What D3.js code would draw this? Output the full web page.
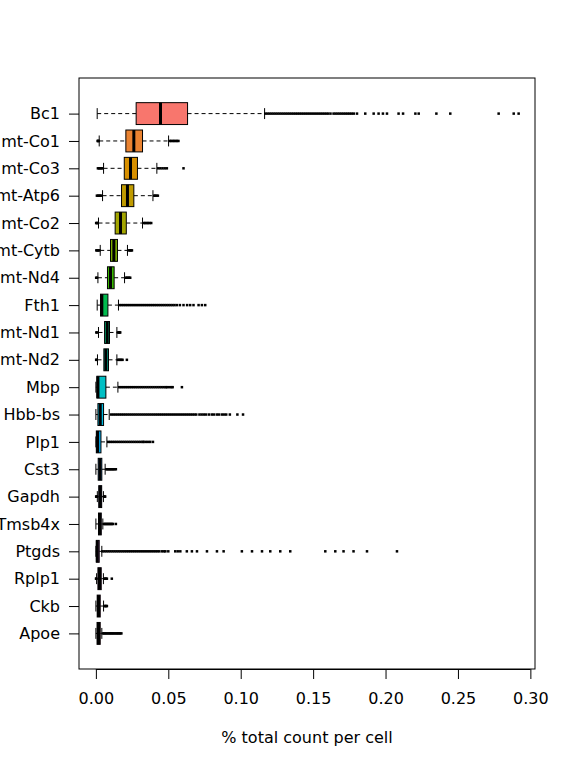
<!DOCTYPE html>
<html><head><meta charset="utf-8">
<script src="https://cdn.jsdelivr.net/npm/d3@7"></script>
<style>html,body{margin:0;padding:0;background:#fff}svg{display:block;font-family:"DejaVu Sans",sans-serif}</style>
</head><body><svg id="c" width="576" height="768"></svg>
<script>
const genes = ["Bc1","mt-Co1","mt-Co3","mt-Atp6","mt-Co2","mt-Cytb","mt-Nd4","Fth1","mt-Nd1","mt-Nd2","Mbp","Hbb-bs","Plp1","Cst3","Gapdh","Tmsb4x","Ptgds","Rplp1","Ckb","Apoe"];
const colors = ["#F8766D","#EA8331","#D89000","#C09B00","#A3A500","#7CAE00","#39B600","#00BB4E","#00BF7D","#00C1A3","#00BFC4","#00BAE0","#00B0F6","#35A2FF","#9590FF","#C77CFF","#E76BF3","#FA62DB","#FF62BC","#FF6C91"];
const whiskerLow = [0.0009,0.0023,0.0053,0.0046,0.0018,0.0030,0.0014,0.0009,0.0018,0.0011,0.0000,0.0000,0.0000,0.0000,0.0010,0.0000,0.0000,0.0005,0.0000,0.0000];
const q1 =         [0.0278,0.0207,0.0196,0.0177,0.0133,0.0101,0.0080,0.0032,0.0060,0.0055,0.0007,0.0014,0.0003,0.0016,0.0020,0.0018,0.0003,0.0014,0.0009,0.0008];
const median =     [0.0446,0.0262,0.0239,0.0218,0.0170,0.0124,0.0101,0.0041,0.0078,0.0069,0.0014,0.0030,0.0012,0.0028,0.0030,0.0027,0.0010,0.0025,0.0018,0.0018];
const q3 =         [0.0633,0.0322,0.0287,0.0262,0.0210,0.0149,0.0126,0.0083,0.0094,0.0087,0.0069,0.0053,0.0035,0.0041,0.0040,0.0037,0.0023,0.0037,0.0030,0.0030];
const whiskerHigh =[0.1165,0.0502,0.0421,0.0394,0.0322,0.0218,0.0198,0.0156,0.0145,0.0145,0.0152,0.0092,0.0076,0.0064,0.0052,0.0048,0.0041,0.0052,0.0053,0.0041];
const outliers = [
 [0.1170,0.1184,0.1198,0.1212,0.1226,0.1240,0.1254,0.1268,0.1282,0.1296,0.1310,0.1324,0.1338,0.1352,0.1366,0.1380,0.1394,0.1408,0.1422,0.1436,0.1450,0.1464,0.1478,0.1492,0.1506,0.1520,0.1534,0.1548,0.1562,0.1576,0.1590,0.1604,0.1620,0.1641,0.1655,0.1669,0.1683,0.1697,0.1711,0.1725,0.1739,0.1753,0.1767,0.1781,0.1803,0.1860,0.1918,0.1952,0.1982,0.2010,0.2090,0.2121,0.2206,0.2229,0.2351,0.2447,0.2781,0.2885,0.2919],
 [0.0012,0.0016,0.0019,0.0510,0.0520,0.0530,0.0540,0.0550,0.0560,0.0570],
 [0.0014,0.0022,0.0030,0.0038,0.0046,0.0430,0.0445,0.0460,0.0475,0.0490,0.0605],
 [0.0007,0.0015,0.0023,0.0030,0.0038,0.0402,0.0410,0.0418,0.0428],
 [0.0002,0.0008,0.0013,0.0330,0.0340,0.0350,0.0360,0.0370,0.0382],
 [0.0003,0.0010,0.0017,0.0024,0.0226,0.0235,0.0243,0.0249],
 [0.0002,0.0008,0.0206,0.0214,0.0222,0.0230,0.0237],
 [0.0165,0.0179,0.0193,0.0207,0.0221,0.0235,0.0249,0.0263,0.0277,0.0291,0.0305,0.0319,0.0333,0.0347,0.0361,0.0375,0.0389,0.0403,0.0417,0.0431,0.0445,0.0459,0.0473,0.0487,0.0501,0.0515,0.0529,0.0543,0.0559,0.0580,0.0605,0.0630,0.0651,0.0674,0.0709,0.0732,0.0755],
 [0.0003,0.0009,0.0152,0.0158,0.0164,0.0168],
 [0.0002,0.0006,0.0152,0.0160,0.0168,0.0176,0.0184,0.0214],
 [0.0160,0.0174,0.0188,0.0202,0.0216,0.0230,0.0244,0.0258,0.0272,0.0286,0.0300,0.0314,0.0328,0.0342,0.0356,0.0370,0.0384,0.0398,0.0412,0.0426,0.0440,0.0454,0.0468,0.0482,0.0490,0.0505,0.0520,0.0530,0.0594],
 [0.0105,0.0119,0.0133,0.0147,0.0161,0.0175,0.0189,0.0203,0.0217,0.0231,0.0245,0.0259,0.0273,0.0287,0.0301,0.0315,0.0329,0.0343,0.0357,0.0371,0.0385,0.0399,0.0413,0.0427,0.0441,0.0455,0.0469,0.0483,0.0497,0.0511,0.0525,0.0539,0.0553,0.0567,0.0581,0.0595,0.0609,0.0623,0.0637,0.0651,0.0665,0.0679,0.0693,0.0715,0.0730,0.0745,0.0760,0.0780,0.0800,0.0815,0.0835,0.0850,0.0870,0.0885,0.0900,0.0925,0.0977,0.1016],
 [0.0085,0.0099,0.0113,0.0127,0.0141,0.0155,0.0169,0.0183,0.0197,0.0211,0.0225,0.0239,0.0253,0.0267,0.0281,0.0295,0.0309,0.0323,0.0330,0.0345,0.0360,0.0375,0.0394],
 [0.0072,0.0080,0.0088,0.0096,0.0104,0.0112,0.0120,0.0128,0.0138],
 [0.0002,0.0005,0.0008,0.0056,0.0060,0.0064],
 [0.0055,0.0062,0.0069,0.0076,0.0083,0.0090,0.0097,0.0104,0.0111,0.0118,0.0138],
 [0.0045,0.0059,0.0073,0.0087,0.0101,0.0115,0.0129,0.0143,0.0157,0.0171,0.0185,0.0199,0.0213,0.0227,0.0241,0.0255,0.0269,0.0283,0.0297,0.0311,0.0325,0.0339,0.0353,0.0367,0.0381,0.0395,0.0409,0.0423,0.0437,0.0455,0.0470,0.0480,0.0500,0.0548,0.0565,0.0583,0.0628,0.0663,0.0698,0.0767,0.0836,0.0882,0.1008,0.1078,0.1147,0.1204,0.1273,0.1342,0.1584,0.1653,0.1710,0.1779,0.1872,0.2079],
 [0.0001,0.0003,0.0058,0.0064,0.0070,0.0076,0.0110],
 [0.0059,0.0065,0.0071,0.0076],
 [0.0048,0.0056,0.0064,0.0072,0.0080,0.0088,0.0096,0.0104,0.0112,0.0120,0.0128,0.0136,0.0144,0.0152,0.0160,0.0168,0.0176]
];
const xTicks = [0,0.05,0.10,0.15,0.20,0.25,0.30];
const xTitle = "% total count per cell";

const svg = d3.select("#c");
const L = 79, R = 535, T = 78, B = 669;
const FS = 16;
const x = d3.scaleLinear().domain([-0.01166, 0.3032]).range([L, R]);
const y = d3.scalePoint().domain(genes).range([113.6, 633.4]);
const bh = y.step() * 0.8;

const g = svg.append("g");
genes.forEach((name, i) => {
  const cy = y(name);
  const row = g.append("g");
  row.append("line").attr("x1", x(whiskerLow[i])).attr("x2", x(q1[i])).attr("y1", cy).attr("y2", cy)
    .attr("stroke", "#000").attr("stroke-width", 1).attr("stroke-dasharray", "4,3");
  row.append("line").attr("x1", x(q3[i])).attr("x2", x(whiskerHigh[i])).attr("y1", cy).attr("y2", cy)
    .attr("stroke", "#000").attr("stroke-width", 1).attr("stroke-dasharray", "4,3");
  [whiskerLow[i], whiskerHigh[i]].forEach(v => {
    row.append("line").attr("x1", x(v)).attr("x2", x(v)).attr("y1", cy - bh / 4).attr("y2", cy + bh / 4)
      .attr("stroke", "#000").attr("stroke-width", 1);
  });
  row.selectAll("rect.o").data(outliers[i]).join("rect").attr("class", "o")
    .attr("x", d => x(d) - 1.25).attr("y", cy - 1.25).attr("width", 2.5).attr("height", 2.5).attr("fill", "#000");
  row.append("rect").attr("x", x(q1[i])).attr("y", cy - bh / 2)
    .attr("width", Math.max(0.5, x(q3[i]) - x(q1[i]))).attr("height", bh)
    .attr("fill", colors[i]).attr("stroke", "#000").attr("stroke-width", 1);
  row.append("line").attr("x1", x(median[i])).attr("x2", x(median[i])).attr("y1", cy - bh / 2).attr("y2", cy + bh / 2)
    .attr("stroke", "#000").attr("stroke-width", 3);
});

svg.append("rect").attr("x", L).attr("y", T).attr("width", R - L).attr("height", B - T)
  .attr("fill", "none").attr("stroke", "#000").attr("stroke-width", 1);

const ya = svg.append("g").attr("transform", `translate(${L},0)`)
  .call(d3.axisLeft(y).tickSize(10).tickPadding(9));
ya.select(".domain").remove();
ya.selectAll("text").attr("font-size", FS).attr("font-family", "DejaVu Sans").attr("fill", "#000");
ya.selectAll("line").attr("stroke", "#000");

const xa = svg.append("g").attr("transform", `translate(0,${B})`)
  .call(d3.axisBottom(x).tickValues(xTicks).tickFormat(d3.format(".2f")).tickSize(10).tickPadding(14));
xa.select(".domain").attr("d", `M${x(0)},0.5H${x(0.3)}`).attr("stroke", "#000");
xa.selectAll("text").attr("font-size", FS).attr("font-family", "DejaVu Sans").attr("fill", "#000");
xa.selectAll("line").attr("stroke", "#000");

svg.append("text").attr("x", (L + R) / 2).attr("y", 743).attr("text-anchor", "middle")
  .attr("font-size", FS).attr("fill", "#000").text(xTitle);
</script></body></html>
